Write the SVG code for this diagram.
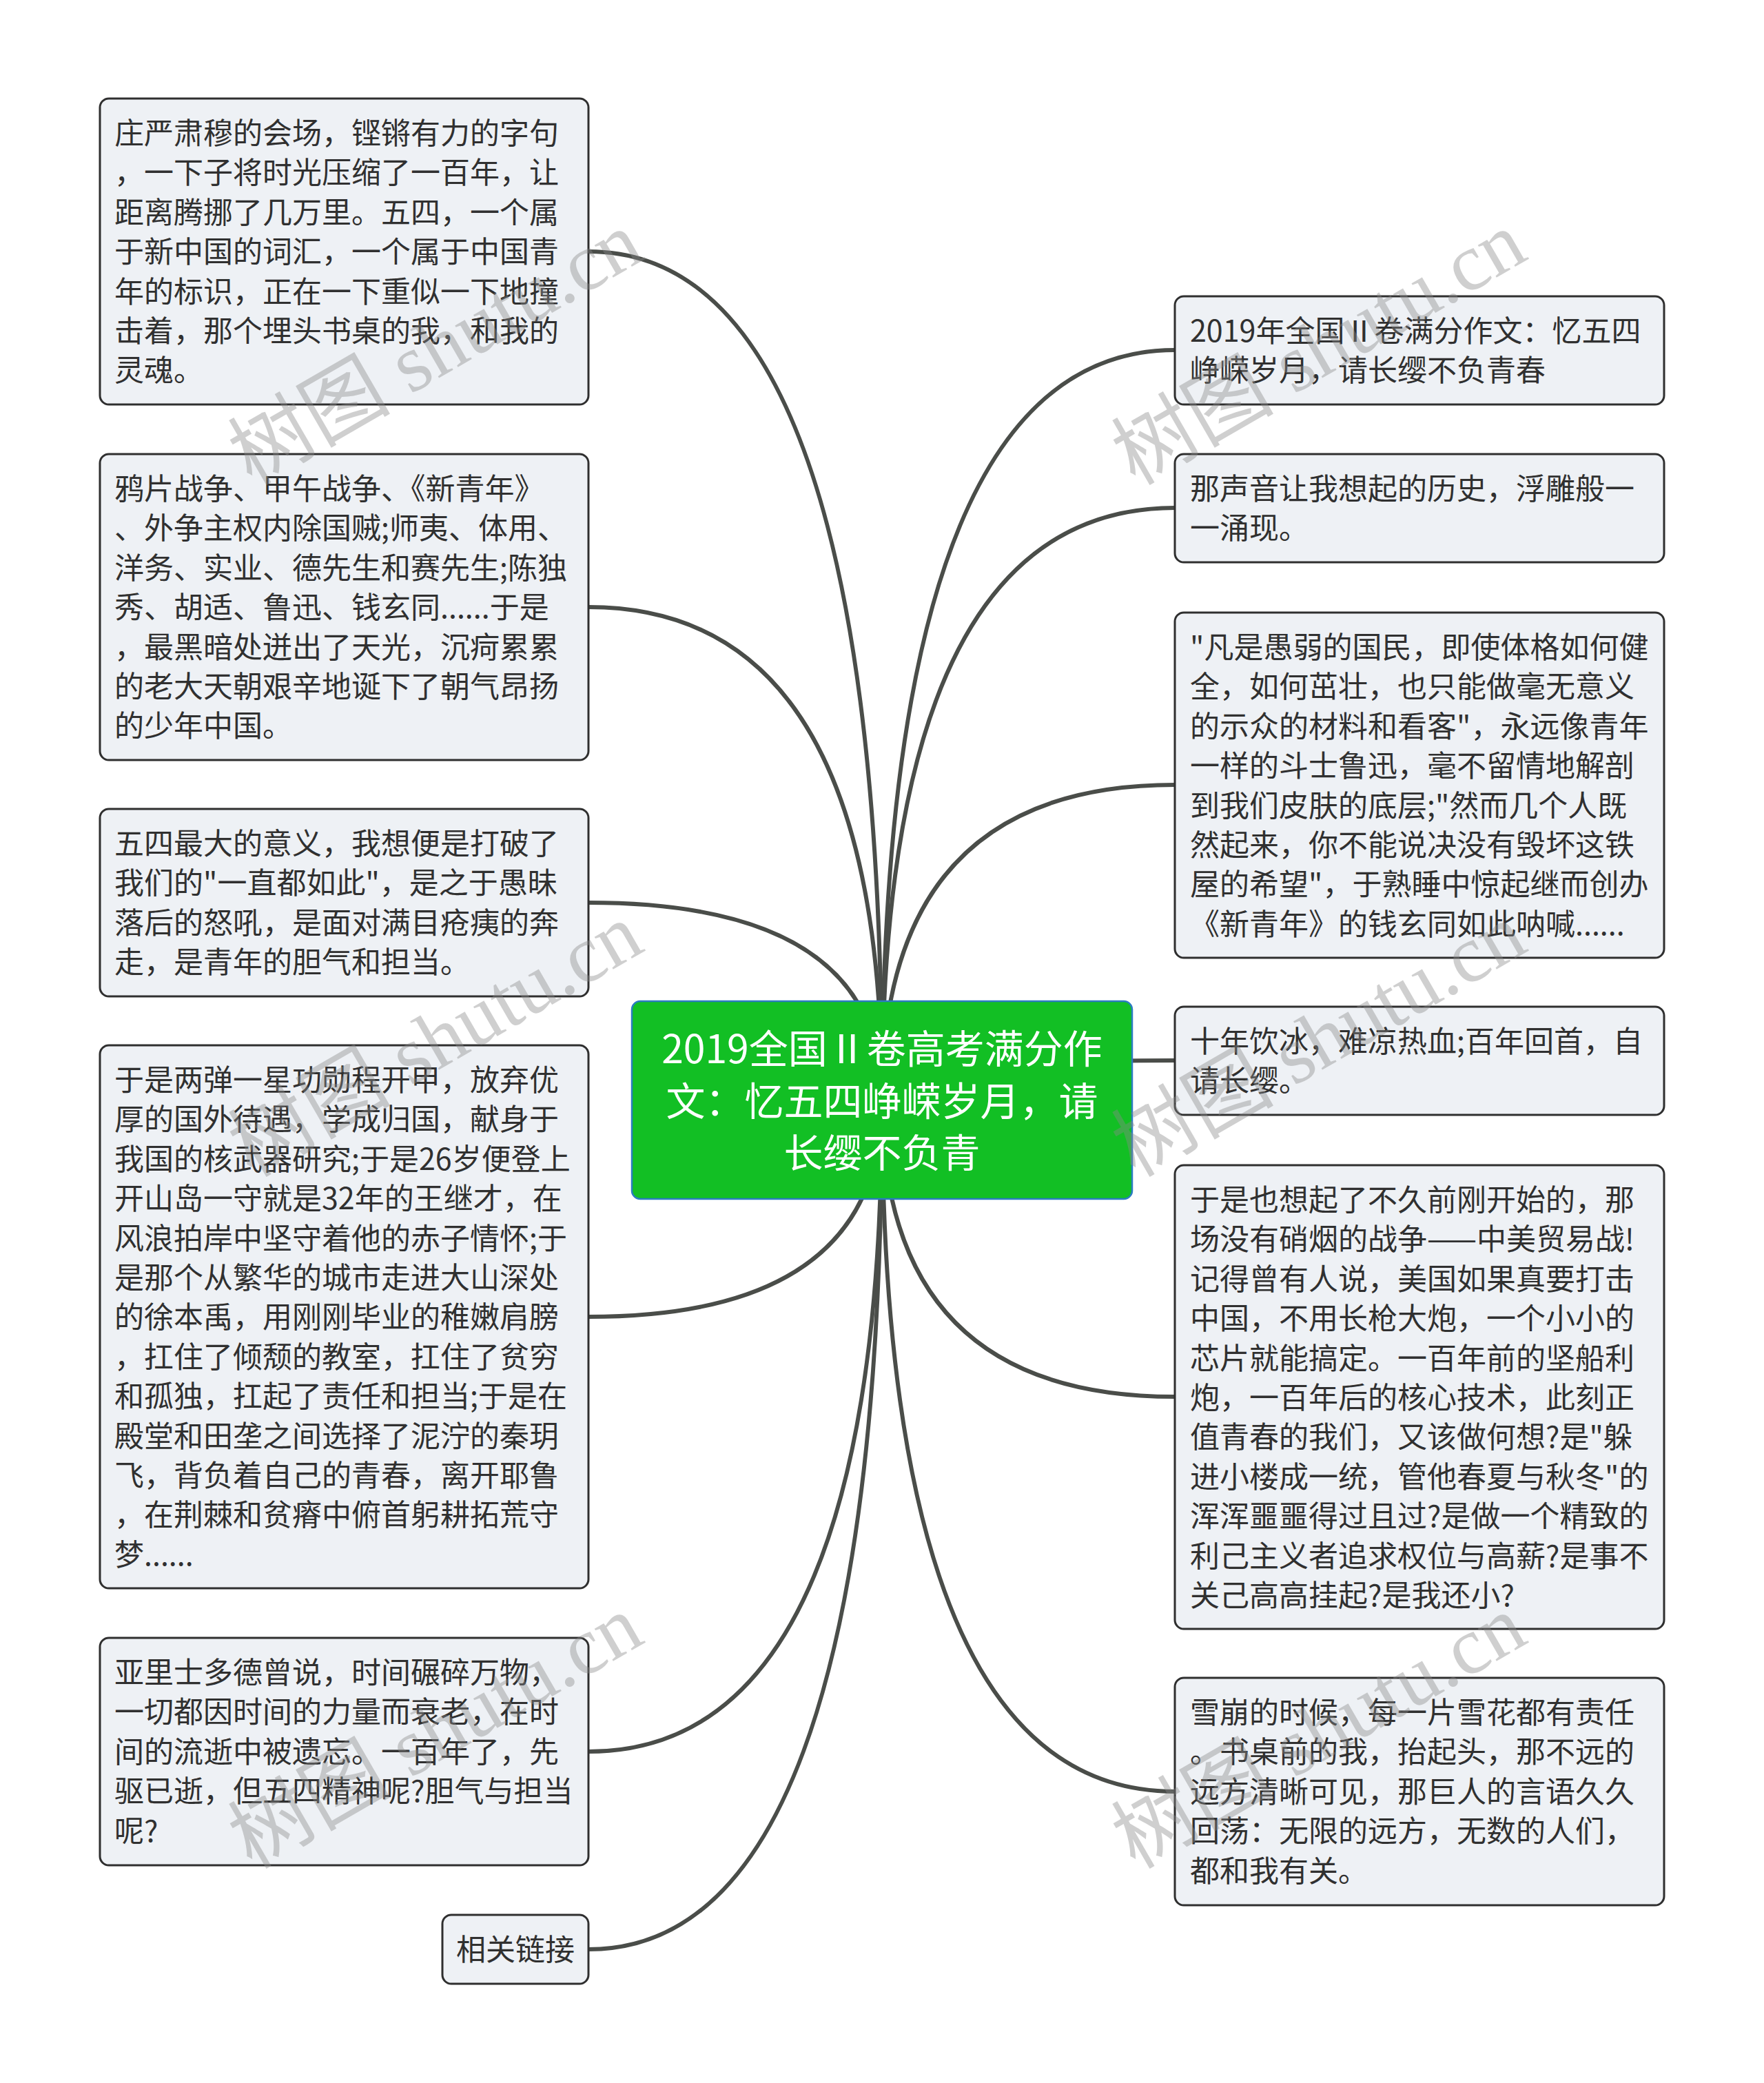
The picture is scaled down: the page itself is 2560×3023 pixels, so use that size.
<svg xmlns="http://www.w3.org/2000/svg" width="2560" height="3023" viewBox="0 0 2560 3023">
<style>
.bg{fill:#ffffff}
.link{fill:none;stroke:#4a4d49;stroke-width:6;stroke-linecap:round}
.box{fill:#eef1f5;stroke:#2f2f2f;stroke-width:3}
.root{fill:#12bf24;stroke:#2b7cc2;stroke-width:2.5}
.t{font-family:"Noto Sans CJK SC","Noto Sans",sans-serif;font-size:43px;fill:#303030}
.rt{font-family:"Noto Sans CJK SC","Noto Sans",sans-serif;font-size:57px;fill:#ffffff;text-anchor:middle}
.wm{font-family:"Liberation Serif","Noto Sans CJK SC",serif;font-size:118px;fill:#8a8a8a;opacity:0.4}
</style>
<rect class="bg" x="0" y="0" width="2560" height="3023"/>
<g id="connectors">
<path class="link" d="M1280 1596 Q1280 365 854 365"/>
<path class="link" d="M1280 1596 Q1280 881 854 881"/>
<path class="link" d="M1280 1596 Q1280 1310 854 1310"/>
<path class="link" d="M1280 1596 Q1280 1911 854 1911"/>
<path class="link" d="M1280 1596 Q1280 2542 854 2542"/>
<path class="link" d="M1280 1596 Q1280 2829 854 2829"/>
<path class="link" d="M1280 1596 Q1280 508 1705 508"/>
<path class="link" d="M1280 1596 Q1280 737 1705 737"/>
<path class="link" d="M1280 1596 Q1280 1139 1705 1139"/>
<path class="link" d="M1280 1596 Q1280 1539 1705 1539"/>
<path class="link" d="M1280 1596 Q1280 2027 1705 2027"/>
<path class="link" d="M1280 1596 Q1280 2600 1705 2600"/>
</g>
<g id="root">
<rect class="root" x="917" y="1453" width="726" height="287" rx="12"/>
<text class="rt"><tspan x="1280" y="1543">2019全国Ⅱ卷高考满分作</tspan><tspan x="1280" y="1619">文：忆五四峥嵘岁月，请</tspan><tspan x="1280" y="1694">长缨不负青</tspan></text>
</g>
<g id="L1">
<rect class="box" x="145" y="143" width="709" height="444" rx="13"/>
<text class="t"><tspan x="166" y="209">庄严肃穆的会场，铿锵有力的字句</tspan><tspan x="166" dy="57.4">，一下子将时光压缩了一百年，让</tspan><tspan x="166" dy="57.4">距离腾挪了几万里。五四，一个属</tspan><tspan x="166" dy="57.4">于新中国的词汇，一个属于中国青</tspan><tspan x="166" dy="57.4">年的标识，正在一下重似一下地撞</tspan><tspan x="166" dy="57.4">击着，那个埋头书桌的我，和我的</tspan><tspan x="166" dy="57.4">灵魂。</tspan></text>
</g>
<g id="L2">
<rect class="box" x="145" y="659" width="709" height="444" rx="13"/>
<text class="t"><tspan x="166" y="725">鸦片战争、甲午战争、《新青年》</tspan><tspan x="166" dy="57.4">、外争主权内除国贼;师夷、体用、</tspan><tspan x="166" dy="57.4">洋务、实业、德先生和赛先生;陈独</tspan><tspan x="166" dy="57.4">秀、胡适、鲁迅、钱玄同......于是</tspan><tspan x="166" dy="57.4">，最黑暗处迸出了天光，沉疴累累</tspan><tspan x="166" dy="57.4">的老大天朝艰辛地诞下了朝气昂扬</tspan><tspan x="166" dy="57.4">的少年中国。</tspan></text>
</g>
<g id="L3">
<rect class="box" x="145" y="1174" width="709" height="272" rx="13"/>
<text class="t"><tspan x="166" y="1240">五四最大的意义，我想便是打破了</tspan><tspan x="166" dy="57.4">我们的"一直都如此"，是之于愚昧</tspan><tspan x="166" dy="57.4">落后的怒吼，是面对满目疮痍的奔</tspan><tspan x="166" dy="57.4">走，是青年的胆气和担当。</tspan></text>
</g>
<g id="L4">
<rect class="box" x="145" y="1517" width="709" height="788" rx="13"/>
<text class="t"><tspan x="166" y="1583">于是两弹一星功勋程开甲，放弃优</tspan><tspan x="166" dy="57.4">厚的国外待遇，学成归国，献身于</tspan><tspan x="166" dy="57.4">我国的核武器研究;于是26岁便登上</tspan><tspan x="166" dy="57.4">开山岛一守就是32年的王继才，在</tspan><tspan x="166" dy="57.4">风浪拍岸中坚守着他的赤子情怀;于</tspan><tspan x="166" dy="57.4">是那个从繁华的城市走进大山深处</tspan><tspan x="166" dy="57.4">的徐本禹，用刚刚毕业的稚嫩肩膀</tspan><tspan x="166" dy="57.4">，扛住了倾颓的教室，扛住了贫穷</tspan><tspan x="166" dy="57.4">和孤独，扛起了责任和担当;于是在</tspan><tspan x="166" dy="57.4">殿堂和田垄之间选择了泥泞的秦玥</tspan><tspan x="166" dy="57.4">飞，背负着自己的青春，离开耶鲁</tspan><tspan x="166" dy="57.4">，在荆棘和贫瘠中俯首躬耕拓荒守</tspan><tspan x="166" dy="57.4">梦......</tspan></text>
</g>
<g id="L5">
<rect class="box" x="145" y="2377" width="709" height="330" rx="13"/>
<text class="t"><tspan x="166" y="2443">亚里士多德曾说，时间碾碎万物，</tspan><tspan x="166" dy="57.4">一切都因时间的力量而衰老，在时</tspan><tspan x="166" dy="57.4">间的流逝中被遗忘。一百年了，先</tspan><tspan x="166" dy="57.4">驱已逝，但五四精神呢?胆气与担当</tspan><tspan x="166" dy="57.4">呢?</tspan></text>
</g>
<g id="L6">
<rect class="box" x="642" y="2779" width="212" height="100" rx="13"/>
<text class="t"><tspan x="662" y="2845">相关链接</tspan></text>
</g>
<g id="R1">
<rect class="box" x="1705" y="430" width="710" height="157" rx="13"/>
<text class="t"><tspan x="1727" y="496">2019年全国Ⅱ卷满分作文：忆五四</tspan><tspan x="1727" dy="57.4">峥嵘岁月，请长缨不负青春</tspan></text>
</g>
<g id="R2">
<rect class="box" x="1705" y="659" width="710" height="157" rx="13"/>
<text class="t"><tspan x="1727" y="725">那声音让我想起的历史，浮雕般一</tspan><tspan x="1727" dy="57.4">一涌现。</tspan></text>
</g>
<g id="R3">
<rect class="box" x="1705" y="889" width="710" height="501" rx="13"/>
<text class="t"><tspan x="1727" y="955">"凡是愚弱的国民，即使体格如何健</tspan><tspan x="1727" dy="57.4">全，如何茁壮，也只能做毫无意义</tspan><tspan x="1727" dy="57.4">的示众的材料和看客"，永远像青年</tspan><tspan x="1727" dy="57.4">一样的斗士鲁迅，毫不留情地解剖</tspan><tspan x="1727" dy="57.4">到我们皮肤的底层;"然而几个人既</tspan><tspan x="1727" dy="57.4">然起来，你不能说决没有毁坏这铁</tspan><tspan x="1727" dy="57.4">屋的希望"，于熟睡中惊起继而创办</tspan><tspan x="1727" dy="57.4">《新青年》的钱玄同如此呐喊......</tspan></text>
</g>
<g id="R4">
<rect class="box" x="1705" y="1461" width="710" height="157" rx="13"/>
<text class="t"><tspan x="1727" y="1527">十年饮冰，难凉热血;百年回首，自</tspan><tspan x="1727" dy="57.4">请长缨。</tspan></text>
</g>
<g id="R5">
<rect class="box" x="1705" y="1691" width="710" height="673" rx="13"/>
<text class="t"><tspan x="1727" y="1757">于是也想起了不久前刚开始的，那</tspan><tspan x="1727" dy="57.4">场没有硝烟的战争——中美贸易战!</tspan><tspan x="1727" dy="57.4">记得曾有人说，美国如果真要打击</tspan><tspan x="1727" dy="57.4">中国，不用长枪大炮，一个小小的</tspan><tspan x="1727" dy="57.4">芯片就能搞定。一百年前的坚船利</tspan><tspan x="1727" dy="57.4">炮，一百年后的核心技术，此刻正</tspan><tspan x="1727" dy="57.4">值青春的我们，又该做何想?是"躲</tspan><tspan x="1727" dy="57.4">进小楼成一统，管他春夏与秋冬"的</tspan><tspan x="1727" dy="57.4">浑浑噩噩得过且过?是做一个精致的</tspan><tspan x="1727" dy="57.4">利己主义者追求权位与高薪?是事不</tspan><tspan x="1727" dy="57.4">关己高高挂起?是我还小?</tspan></text>
</g>
<g id="R6">
<rect class="box" x="1705" y="2435" width="710" height="330" rx="13"/>
<text class="t"><tspan x="1727" y="2501">雪崩的时候，每一片雪花都有责任</tspan><tspan x="1727" dy="57.4">。书桌前的我，抬起头，那不远的</tspan><tspan x="1727" dy="57.4">远方清晰可见，那巨人的言语久久</tspan><tspan x="1727" dy="57.4">回荡：无限的远方，无数的人们，</tspan><tspan x="1727" dy="57.4">都和我有关。</tspan></text>
</g>
<g id="watermarks">
<text class="wm" text-anchor="middle" transform="translate(652 540) rotate(-30)">树图 shutu.cn</text>
<text class="wm" text-anchor="middle" transform="translate(652 1544) rotate(-30)">树图 shutu.cn</text>
<text class="wm" text-anchor="middle" transform="translate(652 2548) rotate(-30)">树图 shutu.cn</text>
<text class="wm" text-anchor="middle" transform="translate(1934 540) rotate(-30)">树图 shutu.cn</text>
<text class="wm" text-anchor="middle" transform="translate(1934 1544) rotate(-30)">树图 shutu.cn</text>
<text class="wm" text-anchor="middle" transform="translate(1934 2548) rotate(-30)">树图 shutu.cn</text>
</g>
</svg>
